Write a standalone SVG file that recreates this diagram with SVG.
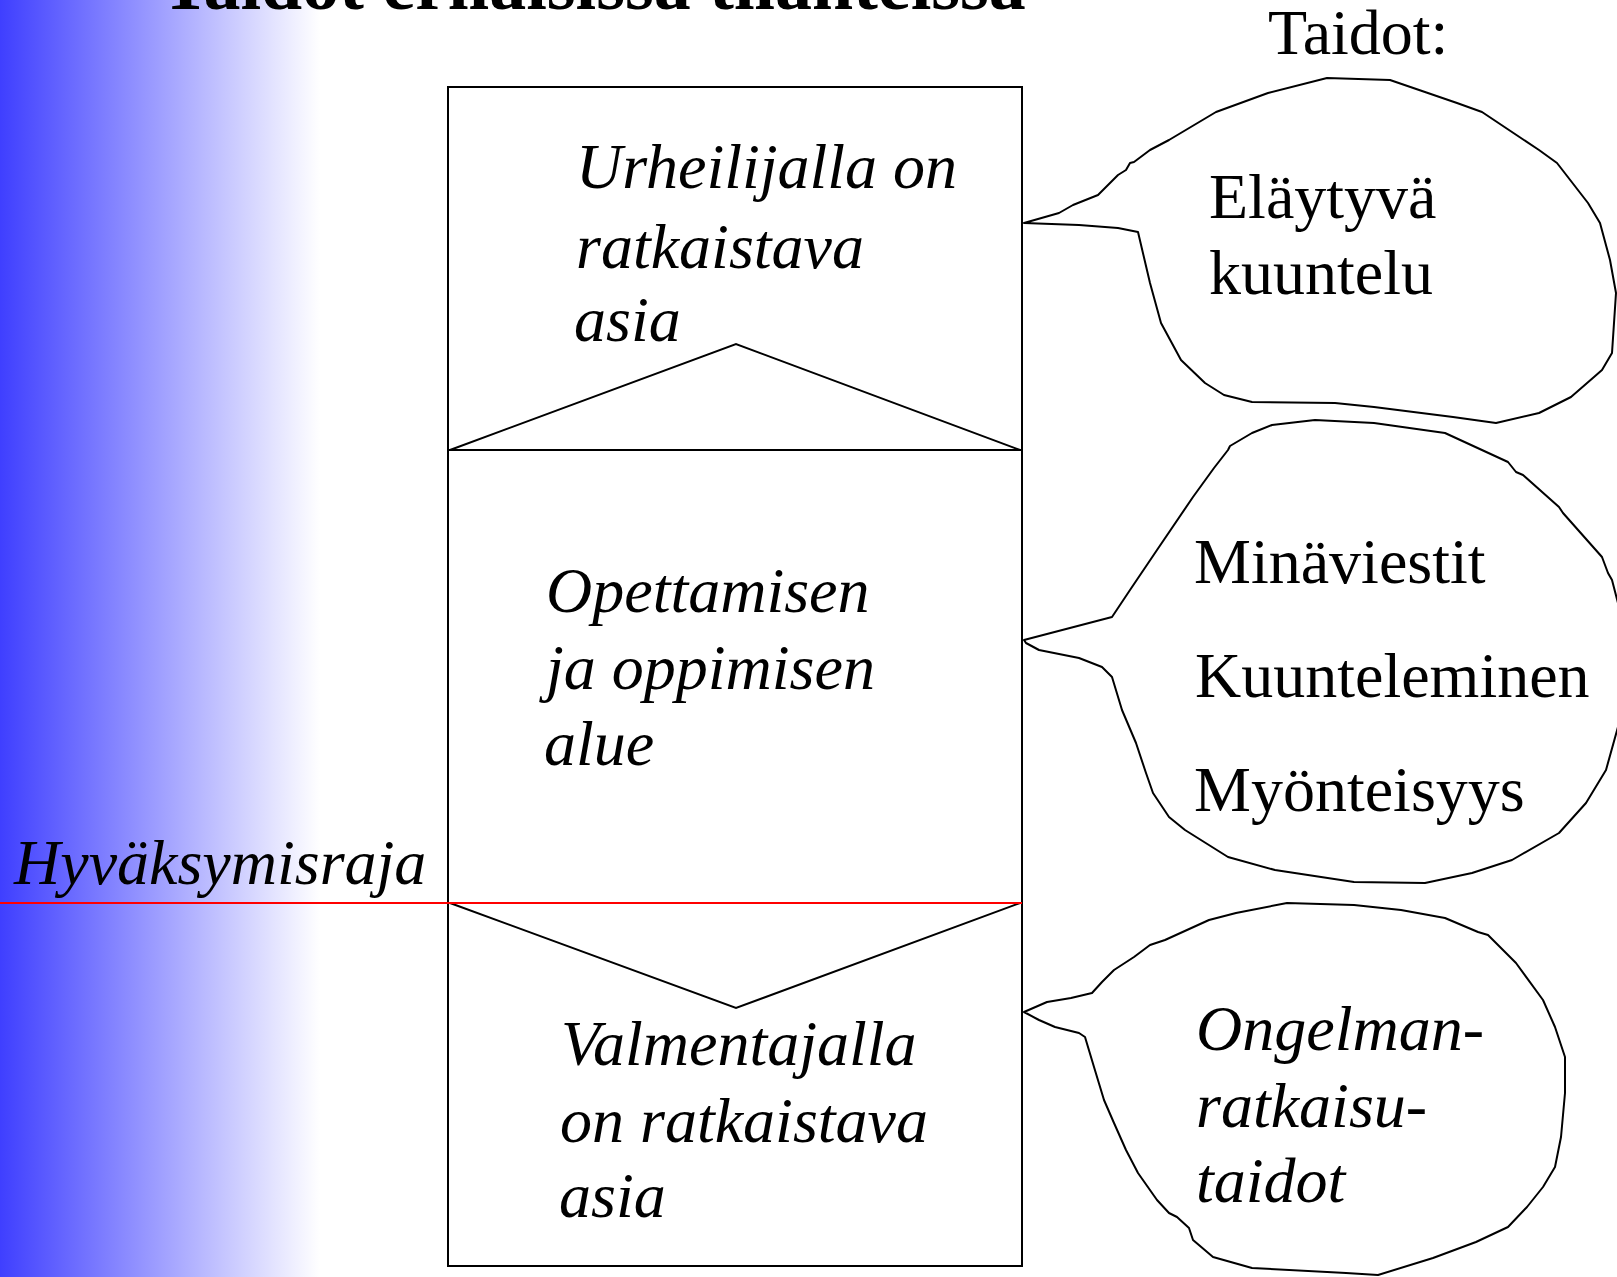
<svg xmlns="http://www.w3.org/2000/svg" width="1617" height="1277" viewBox="0 0 1617 1277">
<defs>
<linearGradient id="bg" x1="0" y1="0" x2="320" y2="0" gradientUnits="userSpaceOnUse">
<stop offset="0" stop-color="#3F3FFF"/>
<stop offset="1" stop-color="#FFFFFF"/>
</linearGradient>
<style>
.t{font-family:"Liberation Serif","Times New Roman",serif;font-size:64px;fill:#000}
.i{font-style:italic}
.ln{fill:none;stroke:#000;stroke-width:2}
.bub{fill:#fff;stroke:#000;stroke-width:2;stroke-linejoin:round}
</style>
</defs>
<rect x="0" y="0" width="1617" height="1277" fill="#fff"/>
<rect x="0" y="0" width="330" height="1277" fill="url(#bg)"/>
<text x="161" y="9" style="font-family:'Liberation Serif','Times New Roman',serif;font-weight:bold;font-size:74px">Taidot erilaisissa tilanteissa</text>
<text class="t" x="1268" y="54">Taidot:</text>

<g id="column">
<rect x="448" y="87" width="574" height="1179" fill="#fff" stroke="#000" stroke-width="2"/>
<line class="ln" x1="448" y1="450" x2="1022" y2="450"/>
<polyline class="ln" points="450,450 736,344 1020,450"/>
<polyline class="ln" points="450,903 736,1008 1020,903"/>
</g>

<g id="acceptance-line">
<line x1="0" y1="903" x2="1022" y2="903" stroke="#FF0000" stroke-width="2"/>
<text class="t i" x="14" y="884">Hyväksymisraja</text>
</g>

<g id="zone-athlete">
<text class="t i" x="576" y="188">Urheilijalla on</text>
<text class="t i" x="576" y="268">ratkaistava</text>
<text class="t i" x="574" y="341">asia</text>
</g>
<g id="zone-learning">
<text class="t i" x="546" y="612">Opettamisen</text>
<text class="t i" x="546" y="689">ja oppimisen</text>
<text class="t i" x="544" y="765">alue</text>
</g>
<g id="zone-coach">
<text class="t i" x="561" y="1065">Valmentajalla</text>
<text class="t i" x="560" y="1142">on ratkaistava</text>
<text class="t i" x="559" y="1217">asia</text>
</g>

<g id="connectors">
<path id="bubble1" class="bub" d="M1024,223 L1059,213 L1073,205 L1098,195 L1118,175 L1126,170 L1130,163 L1134,162 L1150,150 L1169,140 L1216,112 L1268,93 L1327,78 L1390,80 L1457,103 L1482,112 L1539,150 L1557,163 L1588,203 L1600,223 L1610,260 L1616,293 L1614,323 L1612,353 L1602,370 L1594,377 L1571,397 L1539,413 L1496,423 L1453,417 L1374,407 L1335,403 L1252,402 L1224,395 L1205,383 L1181,360 L1161,323 L1150,283 L1138,232 L1118,228 L1079,225 Z"/>
<path id="bubble2" class="bub" d="M1024,640 L1112,617 L1130,590 L1157,550 L1193,497 L1214,468 L1228,450 L1230,446 L1252,433 L1272,425 L1315,420 L1374,423 L1445,433 L1508,462 L1516,472 L1523,475 L1559,507 L1563,513 L1602,557 L1608,573 L1612,580 L1618,603 L1618,727 L1606,770 L1586,803 L1559,833 L1512,860 L1472,873 L1425,883 L1354,882 L1275,870 L1228,857 L1185,830 L1169,817 L1153,793 L1146,773 L1136,743 L1122,710 L1112,677 L1102,667 L1079,658 L1039,650 L1026,643 Z"/>
<path id="bubble3" class="bub" d="M1024,1012 L1047,1002 L1071,998 L1092,993 L1102,982 L1114,970 L1134,957 L1150,945 L1165,940 L1209,920 L1236,913 L1287,903 L1354,905 L1401,910 L1445,918 L1478,932 L1488,935 L1516,963 L1543,1000 L1555,1027 L1565,1057 L1565,1093 L1561,1137 L1555,1167 L1543,1187 L1527,1207 L1508,1227 L1476,1242 L1433,1258 L1378,1275 L1346,1273 L1252,1268 L1213,1257 L1193,1240 L1189,1228 L1177,1217 L1169,1213 L1157,1200 L1138,1173 L1126,1150 L1114,1123 L1104,1100 L1094,1067 L1085,1037 L1079,1033 L1055,1027 L1039,1020 Z"/>
</g>

<g id="skill1">
<text class="t" x="1209" y="218">Eläytyvä</text>
<text class="t" x="1209" y="294">kuuntelu</text>
</g>
<g id="skill2">
<text class="t" x="1194" y="583">Minäviestit</text>
<text class="t" x="1195" y="697">Kuunteleminen</text>
<text class="t" x="1194" y="811">Myönteisyys</text>
</g>
<g id="skill3">
<text class="t i" x="1196" y="1050">Ongelman-</text>
<text class="t i" x="1196" y="1127">ratkaisu-</text>
<text class="t i" x="1196" y="1202">taidot</text>
</g>
</svg>
